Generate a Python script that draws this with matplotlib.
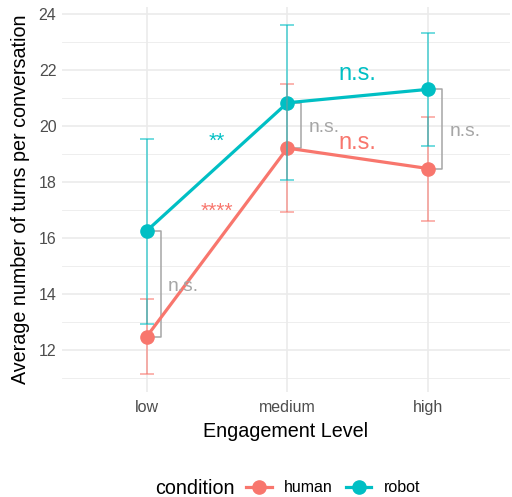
import numpy as np
import matplotlib
matplotlib.use("Agg")
import matplotlib.pyplot as plt
from matplotlib.lines import Line2D

plt.rcParams['font.family'] = ['Liberation Sans', 'DejaVu Sans']

# data
levels = ["low", "medium", "high"]
human_mean = [12.47, 19.21, 18.48]
human_lo = [11.13, 16.94, 16.62]
human_hi = [13.81, 21.50, 20.32]
robot_mean = [16.25, 20.83, 21.31]
robot_lo = [12.94, 18.07, 19.29]
robot_hi = [19.54, 23.61, 23.32]

# significance labels
within_labels = ["n.s.", "n.s.", "n.s."]          # human vs robot at each level
human_steps = ["****", "n.s."]                     # low->medium, medium->high
robot_steps = ["**", "n.s."]
human_step_y = [16.95, 19.4]
robot_step_y = [19.46, 21.87]

c_human = "#F8766D"
c_robot = "#00BFC4"
grey_txt = "#4D4D4D"
bracket_col = "#A6A6A6"

fig = plt.figure(figsize=(5.12, 4.97), dpi=100)
ax = fig.add_axes([62 / 512, 1 - 392 / 497, 448 / 512, 385 / 497])

x = np.arange(1, len(levels) + 1)

# grid like theme_minimal
for v in np.arange(11, 24.5, 2):
    ax.axhline(v, color="#EBEBEB", lw=0.6, zorder=0)
for v in np.arange(12, 24.5, 2):
    ax.axhline(v, color="#EBEBEB", lw=1.2, zorder=0)
for v in x:
    ax.axvline(v, color="#EBEBEB", lw=1.2, zorder=0)

series = [
    (human_mean, human_lo, human_hi, c_human, "human"),
    (robot_mean, robot_lo, robot_hi, c_robot, "robot"),
]
for mean, lo, hi, col, lab in series:
    mean = np.array(mean)
    ax.plot(x, mean, color=col, lw=2.3, zorder=3)
    ax.plot(x, mean, "o", color=col, ms=9.5, zorder=4)
    yerr = [mean - np.array(lo), np.array(hi) - mean]
    ax.errorbar(x, mean, yerr=yerr, fmt="none", ecolor=col, elinewidth=1.1,
                capsize=5, capthick=1.1, alpha=0.7, zorder=5)

# brackets between conditions at each level
for xi, h, r, lab in zip(x, human_mean, robot_mean, within_labels):
    xb = xi + 0.1
    ax.plot([xi, xb, xb, xi], [r, r, h, h], color=bracket_col, lw=1.1, zorder=2)
    ax.text(xb + 0.05, (h + r) / 2 - 0.08, lab, color=bracket_col, fontsize=13.9,
            ha="left", va="center", zorder=6)

# step annotations between levels
for i in range(len(levels) - 1):
    xm = (x[i] + x[i + 1]) / 2
    fs_h = 15 if "*" in human_steps[i] else 17
    fs_r = 15 if "*" in robot_steps[i] else 17
    ax.text(xm, human_step_y[i], human_steps[i], color=c_human, fontsize=fs_h,
            ha="center", va="center", zorder=6)
    ax.text(xm, robot_step_y[i], robot_steps[i], color=c_robot, fontsize=fs_r,
            ha="center", va="center", zorder=6)

ax.set_xlim(0.4, 3.58)
ax.set_ylim(10.5, 24.25)
ax.set_xticks(x)
ax.set_xticklabels(levels)
ax.set_yticks(np.arange(12, 25, 2))
ax.tick_params(length=0, labelsize=11.5, labelcolor=grey_txt, pad=4)
ax.tick_params(axis="x", pad=6)
for s in ax.spines.values():
    s.set_visible(False)

ax.set_xlabel("Engagement Level", fontsize=14.2, labelpad=5)
ax.set_ylabel("Average number of turns per conversation", fontsize=14.2, labelpad=6)

# legend at the bottom
handles = [Line2D([], [], color=c, lw=2.3, marker="o", ms=9.5) for c in (c_human, c_robot)]
fig.text(155 / 512, 1 - 488 / 497, "condition", fontsize=14.2, ha="left", va="center")
fig.legend(handles, ["human", "robot"], ncol=2, frameon=False, fontsize=11.5,
           loc="center left", bbox_to_anchor=(246 / 512, 1 - 488 / 497),
           borderpad=0, borderaxespad=0, handlelength=1.6, handletextpad=0.8,
           columnspacing=0.8)

fig.savefig("out.png", dpi=100)
